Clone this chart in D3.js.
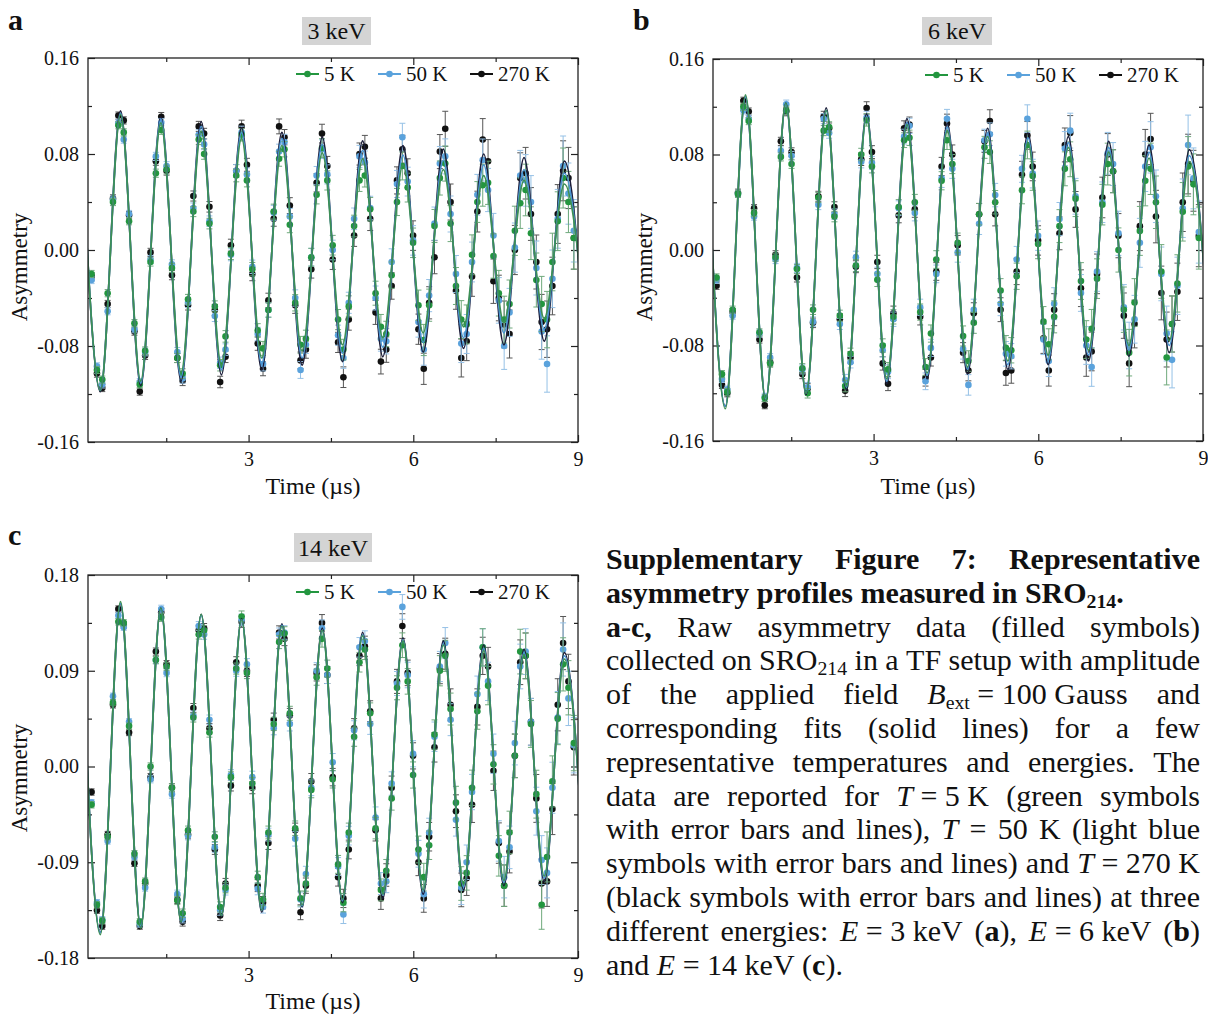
<!DOCTYPE html>
<html>
<head>
<meta charset="utf-8">
<script src="https://cdn.jsdelivr.net/npm/d3@7"></script>
<style>
body { margin: 0; background: #fff; }
svg text { font-family: "Liberation Serif", "Times New Roman", serif; fill: #111; }
</style>
</head>
<body>
<svg id="fig" width="1208" height="1017"></svg>
<script>
// time bins (µs), shared by every panel
var binTimes = [0.140,0.238,0.335,0.433,0.530,0.628,0.726,0.823,0.921,1.018,
  1.116,1.214,1.311,1.409,1.506,1.604,1.702,1.799,1.897,1.994,
  2.092,2.190,2.287,2.385,2.482,2.580,2.678,2.775,2.873,2.970,
  3.068,3.166,3.263,3.361,3.458,3.556,3.654,3.751,3.849,3.946,
  4.044,4.142,4.239,4.337,4.434,4.532,4.630,4.727,4.825,4.922,
  5.020,5.118,5.215,5.313,5.410,5.508,5.606,5.703,5.801,5.898,
  5.996,6.094,6.191,6.289,6.386,6.484,6.582,6.679,6.777,6.874,
  6.972,7.070,7.167,7.265,7.362,7.460,7.558,7.655,7.753,7.850,
  7.948,8.046,8.143,8.241,8.338,8.436,8.534,8.631,8.729,8.826,
  8.924];

// error bar half-heights per bin
var errBars = [0.003,0.003,0.003,0.003,0.003,0.003,0.003,0.003,0.003,0.003,
  0.0032,0.0034,0.0034,0.0036,0.0036,0.0038,0.0038,0.004,0.004,0.0042,
  0.0042,0.0044,0.0044,0.0046,0.0048,0.0048,0.005,0.0052,0.0052,0.0054,
  0.0056,0.0056,0.0058,0.006,0.0062,0.0062,0.0064,0.0066,0.0068,0.007,
  0.0072,0.0074,0.0076,0.0078,0.008,0.0082,0.0084,0.0086,0.0088,0.009,
  0.0092,0.0095,0.0098,0.01,0.0103,0.0106,0.011,0.0113,0.0116,0.012,
  0.0123,0.0126,0.013,0.0134,0.0138,0.0142,0.0146,0.015,0.0154,0.0158,
  0.0162,0.0166,0.017,0.0175,0.018,0.0185,0.019,0.0195,0.02,0.0205,
  0.021,0.0215,0.022,0.0225,0.023,0.0235,0.024,0.0245,0.025,0.0255,
  0.026];

// --- a: 3 keV ---
var a5K = [-0.020,-0.100,-0.108,-0.036,0.040,0.104,0.098,0.024,-0.061,-0.112,
  -0.084,-0.010,0.064,0.100,0.067,-0.015,-0.090,-0.103,-0.041,0.032,
  0.092,0.080,0.022,-0.047,-0.096,-0.072,-0.003,0.062,0.096,0.058,
  -0.016,-0.067,-0.082,-0.050,0.032,0.076,0.084,0.021,-0.044,-0.079,
  -0.074,-0.006,0.046,0.085,0.058,0.004,-0.058,-0.083,-0.047,0.020,
  0.058,0.062,0.034,-0.036,-0.064,-0.070,-0.021,0.040,0.070,0.052,
  0.006,-0.046,-0.075,-0.046,0.020,0.060,0.072,0.022,-0.030,-0.058,
  -0.062,-0.004,0.040,0.054,0.056,-0.005,-0.036,-0.058,-0.045,0.016,
  0.039,0.050,0.014,-0.025,-0.045,-0.058,-0.010,0.024,0.060,0.040,
  0.010];
var a50K = [-0.025,-0.097,-0.112,-0.051,0.042,0.106,0.092,0.030,-0.066,-0.110,
  -0.085,-0.008,0.078,0.106,0.070,-0.012,-0.085,-0.107,-0.044,0.035,
  0.096,0.088,0.024,-0.055,-0.094,-0.083,-0.004,0.066,0.098,0.063,
  -0.014,-0.070,-0.095,-0.050,0.031,0.082,0.090,0.028,-0.040,-0.100,
  -0.079,-0.006,0.062,0.084,0.063,0.000,-0.071,-0.090,-0.044,0.026,
  0.078,0.073,0.035,-0.040,-0.074,-0.076,-0.010,0.055,0.094,0.057,
  0.008,-0.060,-0.083,-0.038,0.022,0.072,0.078,0.030,-0.020,-0.078,
  -0.070,-0.010,0.046,0.075,0.050,0.012,-0.042,-0.080,-0.052,0.002,
  0.062,0.058,0.040,-0.015,-0.068,-0.095,-0.024,0.026,0.070,0.047,
  0.016];
var a270K = [-0.022,-0.103,-0.115,-0.045,0.043,0.112,0.108,0.029,-0.068,-0.118,
  -0.088,-0.002,0.074,0.111,0.066,-0.021,-0.090,-0.109,-0.046,0.045,
  0.103,0.097,0.036,-0.050,-0.110,-0.089,0.004,0.066,0.103,0.071,
  -0.020,-0.078,-0.099,-0.042,0.026,0.103,0.094,0.037,-0.046,-0.092,
  -0.083,-0.016,0.056,0.097,0.070,-0.008,-0.077,-0.106,-0.058,0.012,
  0.080,0.086,0.026,-0.052,-0.093,-0.083,-0.030,0.058,0.084,0.064,
  0.012,-0.066,-0.099,-0.044,-0.006,0.082,0.101,0.040,-0.034,-0.090,
  -0.076,-0.022,0.032,0.092,0.074,-0.026,-0.040,-0.062,-0.070,0.000,
  0.060,0.064,0.030,-0.010,-0.060,-0.066,-0.030,0.030,0.066,0.060,
  0.010];

// --- b: 6 keV ---
var b5K = [-0.023,-0.104,-0.119,-0.050,0.047,0.120,0.108,0.031,-0.069,-0.124,
  -0.095,-0.006,0.078,0.117,0.072,-0.016,-0.099,-0.120,-0.050,0.044,
  0.100,0.103,0.028,-0.055,-0.114,-0.087,-0.013,0.080,0.109,0.070,
  -0.025,-0.080,-0.100,-0.056,0.036,0.092,0.094,0.040,-0.052,-0.098,
  -0.070,-0.008,0.058,0.092,0.072,0.006,-0.072,-0.093,-0.061,0.030,
  0.086,0.082,0.040,-0.034,-0.082,-0.084,-0.022,0.050,0.088,0.062,
  0.005,-0.060,-0.079,-0.056,0.020,0.068,0.076,0.043,-0.026,-0.075,
  -0.066,-0.024,0.038,0.072,0.066,0.000,-0.050,-0.086,-0.044,0.016,
  0.058,0.068,0.040,-0.018,-0.090,-0.062,-0.028,0.032,0.070,0.055,
  0.010];
var b50K = [-0.025,-0.108,-0.117,-0.055,0.047,0.117,0.110,0.028,-0.070,-0.123,
  -0.090,-0.008,0.083,0.122,0.079,-0.015,-0.100,-0.115,-0.060,0.038,
  0.110,0.098,0.030,-0.062,-0.109,-0.094,-0.006,0.074,0.111,0.073,
  -0.020,-0.084,-0.102,-0.058,0.035,0.095,0.104,0.031,-0.048,-0.110,
  -0.082,-0.020,0.060,0.110,0.068,-0.002,-0.083,-0.113,-0.050,0.022,
  0.092,0.097,0.046,-0.045,-0.087,-0.089,-0.008,0.068,0.110,0.064,
  0.012,-0.075,-0.093,-0.045,0.026,0.085,0.100,0.045,-0.036,-0.080,
  -0.098,-0.018,0.040,0.081,0.072,0.014,-0.048,-0.080,-0.058,0.006,
  0.070,0.086,0.045,-0.020,-0.070,-0.092,-0.030,0.035,0.088,0.060,
  0.015];
var b270K = [-0.030,-0.113,-0.120,-0.052,0.048,0.125,0.116,0.035,-0.075,-0.130,
  -0.094,-0.004,0.091,0.116,0.082,-0.023,-0.104,-0.116,-0.061,0.045,
  0.112,0.102,0.036,-0.058,-0.118,-0.090,-0.014,0.076,0.119,0.082,
  -0.010,-0.095,-0.112,-0.053,0.029,0.102,0.105,0.034,-0.056,-0.107,
  -0.090,-0.018,0.070,0.106,0.080,0.004,-0.086,-0.101,-0.053,0.030,
  0.091,0.108,0.030,-0.050,-0.103,-0.101,-0.018,0.063,0.096,0.070,
  0.008,-0.074,-0.101,-0.050,0.014,0.088,0.098,0.034,-0.032,-0.090,
  -0.085,-0.020,0.044,0.080,0.066,0.012,-0.055,-0.095,-0.062,0.020,
  0.080,0.093,0.028,-0.036,-0.075,-0.062,-0.035,0.040,0.072,0.058,
  0.012];

// --- c: 14 keV ---
var c5K = [-0.036,-0.130,-0.145,-0.066,0.060,0.136,0.135,0.038,-0.082,-0.146,
  -0.108,0.000,0.100,0.140,0.094,-0.020,-0.126,-0.138,-0.060,0.046,
  0.124,0.128,0.032,-0.066,-0.132,-0.114,-0.010,0.092,0.141,0.088,
  -0.016,-0.104,-0.125,-0.062,0.040,0.117,0.125,0.050,-0.058,-0.124,
  -0.110,-0.022,0.084,0.120,0.092,-0.012,-0.092,-0.128,-0.062,0.028,
  0.098,0.110,0.050,-0.058,-0.116,-0.098,-0.030,0.074,0.114,0.080,
  -0.008,-0.078,-0.104,-0.074,0.030,0.090,0.104,0.054,-0.034,-0.110,
  -0.100,-0.020,0.052,0.112,0.076,0.002,-0.084,-0.112,-0.062,0.010,
  0.108,0.104,0.040,-0.026,-0.130,-0.085,-0.014,0.045,0.096,0.074,
  0.022];
var c50K = [-0.034,-0.128,-0.144,-0.070,0.066,0.142,0.131,0.042,-0.085,-0.148,
  -0.114,-0.012,0.100,0.148,0.088,-0.026,-0.120,-0.143,-0.065,0.048,
  0.132,0.124,0.044,-0.076,-0.135,-0.116,-0.008,0.090,0.138,0.096,
  -0.010,-0.115,-0.132,-0.064,0.036,0.124,0.126,0.040,-0.068,-0.125,
  -0.101,-0.020,0.090,0.130,0.086,0.004,-0.094,-0.139,-0.065,0.034,
  0.112,0.118,0.040,-0.048,-0.110,-0.108,-0.016,0.078,0.150,0.086,
  0.012,-0.082,-0.120,-0.062,0.028,0.094,0.116,0.044,-0.050,-0.114,
  -0.090,-0.024,0.068,0.112,0.080,0.012,-0.070,-0.104,-0.076,0.022,
  0.094,0.108,0.042,-0.042,-0.088,-0.100,-0.020,0.046,0.110,0.064,
  0.020];
var c270K = [-0.024,-0.135,-0.150,-0.064,0.058,0.148,0.133,0.032,-0.091,-0.150,
  -0.110,-0.010,0.108,0.145,0.096,-0.020,-0.125,-0.146,-0.064,0.055,
  0.128,0.130,0.036,-0.078,-0.140,-0.110,-0.018,0.098,0.136,0.090,
  -0.020,-0.112,-0.128,-0.072,0.044,0.126,0.120,0.048,-0.060,-0.137,
  -0.112,-0.014,0.088,0.135,0.086,-0.010,-0.104,-0.124,-0.078,0.036,
  0.104,0.113,0.052,-0.060,-0.124,-0.102,-0.020,0.080,0.132,0.088,
  0.010,-0.090,-0.124,-0.066,0.018,0.092,0.106,0.058,-0.042,-0.116,
  -0.105,-0.036,0.056,0.104,0.094,-0.004,-0.072,-0.112,-0.080,0.010,
  0.098,0.104,0.042,-0.030,-0.110,-0.108,-0.040,0.058,0.116,0.080,
  0.018];

// fit curves: value at each extremum (peaks / troughs)
var fitTimes = [-0.068,0.300,0.667,1.035,1.402,1.770,2.137,2.505,2.872,3.240,3.607,3.975,4.342,
  4.710,5.077,5.445,5.812,6.180,6.547,6.915,7.282,7.650,8.017,8.385,8.752,9.120];
var aFit5K = [0.120,-0.117,0.113,-0.109,0.106,-0.102,0.099,-0.096,0.093,-0.090,0.087,-0.084,0.081,
  -0.079,0.076,-0.073,0.071,-0.069,0.067,-0.064,0.062,-0.060,0.058,-0.057,0.055,-0.054];
var aFit50K = [0.120,-0.117,0.114,-0.111,0.109,-0.106,0.103,-0.100,0.098,-0.095,0.093,-0.090,0.088,
  -0.086,0.083,-0.081,0.079,-0.077,0.075,-0.073,0.071,-0.069,0.067,-0.066,0.064,-0.063];
var aFit270K = [0.120,-0.118,0.116,-0.113,0.111,-0.109,0.107,-0.104,0.102,-0.100,0.098,-0.096,0.094,
  -0.093,0.091,-0.089,0.087,-0.085,0.084,-0.082,0.080,-0.079,0.077,-0.076,0.074,-0.073];
var bFit5K = [0.136,-0.133,0.130,-0.126,0.123,-0.120,0.117,-0.114,0.111,-0.108,0.105,-0.103,0.100,
  -0.098,0.095,-0.093,0.090,-0.088,0.086,-0.084,0.082,-0.080,0.077,-0.076,0.074,-0.072];
var bFit50K = [0.133,-0.131,0.128,-0.125,0.122,-0.120,0.117,-0.115,0.112,-0.110,0.107,-0.105,0.103,
  -0.100,0.098,-0.096,0.094,-0.092,0.090,-0.088,0.086,-0.084,0.082,-0.080,0.079,-0.078];
var bFit270K = [0.133,-0.131,0.128,-0.126,0.123,-0.121,0.119,-0.117,0.114,-0.112,0.110,-0.108,0.106,
  -0.104,0.102,-0.100,0.098,-0.096,0.095,-0.093,0.091,-0.089,0.088,-0.086,0.084,-0.083];
var cFit5K = [0.160,-0.158,0.155,-0.152,0.149,-0.146,0.143,-0.140,0.138,-0.135,0.132,-0.130,0.128,
  -0.125,0.123,-0.120,0.118,-0.116,0.114,-0.111,0.109,-0.107,0.105,-0.103,0.101,-0.100];
var cFit50K = [0.158,-0.156,0.153,-0.150,0.148,-0.145,0.142,-0.140,0.138,-0.135,0.133,-0.131,0.128,
  -0.126,0.124,-0.121,0.119,-0.117,0.115,-0.113,0.111,-0.109,0.107,-0.105,0.104,-0.103];
var cFit270K = [0.158,-0.156,0.153,-0.151,0.149,-0.146,0.143,-0.141,0.139,-0.137,0.134,-0.132,0.130,
  -0.128,0.126,-0.124,0.121,-0.120,0.118,-0.116,0.114,-0.112,0.110,-0.108,0.107,-0.106];

var tempLabels = ["5 K", "50 K", "270 K"];
var xMajorTicks = [3, 6, 9];
var xMinorTicks = [1.5, 4.5, 7.5];
var yMajorAB = [-0.16, -0.08, 0, 0.08, 0.16];
var yMinorAB = [-0.12, -0.04, 0.04, 0.12];
var yMajorC = [-0.18, -0.09, 0, 0.09, 0.18];
var yMinorC = [-0.135, -0.045, 0.045, 0.135];

var ptColor = ["#23963f", "#5aa2dc", "#111111"];
var errColor = ["#6fa97c", "#95c1e6", "#555555"];
var lineColor = ["#3d8f55", "#4a93d0", "#1c1d3a"];

var svg = d3.select("#fig");
var serif = '"Liberation Serif", "Times New Roman", serif';

var panels = [
  {letter: "a", lx: 8, ly: 30, title: "3 keV", box: [302, 17, 69, 28], left: 88, top: 58, h: 384,
   yDom: [-0.16, 0.16], yMaj: yMajorAB, yMin: yMinorAB, ylab: [27, 267], xlab: [313, 494], leg: [296, 74],
   data: [a5K, a50K, a270K], fits: [aFit5K, aFit50K, aFit270K]},
  {letter: "b", lx: 633, ly: 30, title: "6 keV", box: [922, 17, 70, 28], left: 713, top: 59, h: 382,
   yDom: [-0.16, 0.16], yMaj: yMajorAB, yMin: yMinorAB, ylab: [652, 267], xlab: [928, 494], leg: [925, 75],
   data: [b5K, b50K, b270K], fits: [bFit5K, bFit50K, bFit270K]},
  {letter: "c", lx: 8, ly: 545, title: "14 keV", box: [294, 533, 78, 29], left: 88, top: 575, h: 383,
   yDom: [-0.18, 0.18], yMaj: yMajorC, yMin: yMinorC, ylab: [27, 778], xlab: [313, 1009], leg: [296, 592],
   data: [c5K, c50K, c270K], fits: [cFit5K, cFit50K, cFit270K]}
];

var W = 490;

var styleAxis = function(sel) {
    sel.select(".domain").remove();
    sel.attr("font-family", serif).attr("font-size", 20).attr("color", "#222");
    sel.selectAll("line").attr("stroke-width", 1.2);
}

var drawPanel = function(p, pi) {
    var x = d3.scaleLinear().domain([0.075, 9]).range([p.left, p.left + W]);
    var y = d3.scaleLinear().domain(p.yDom).range([p.top + p.h, p.top]);
    var g = svg.append("g").attr("class", "panel");

    g.append("clipPath").attr("id", "clip" + pi).append("rect")
        .attr("x", p.left).attr("y", p.top).attr("width", W).attr("height", p.h);

    // letter + title box
    svg.append("text").attr("x", p.lx).attr("y", p.ly).attr("font-size", 30).attr("font-weight", "bold").text(p.letter);
    g.append("rect").attr("x", p.box[0]).attr("y", p.box[1]).attr("width", p.box[2]).attr("height", p.box[3]).attr("fill", "#d4d4d4");
    g.append("text").attr("x", p.box[0] + p.box[2] / 2).attr("y", p.box[1] + p.box[3] - 6)
        .attr("text-anchor", "middle").attr("font-size", 24).text(p.title);

    // axes
    var bottom = p.top + p.h;
    g.append("g").attr("transform", "translate(0," + bottom + ")")
        .call(d3.axisBottom(x).tickValues(xMajorTicks).tickSize(-7).tickPadding(10).tickFormat(d3.format("d"))).call(styleAxis);
    g.append("g").attr("transform", "translate(0," + bottom + ")")
        .call(d3.axisBottom(x).tickValues(xMinorTicks).tickSize(-4).tickFormat("")).call(styleAxis);
    g.append("g").attr("transform", "translate(0," + p.top + ")")
        .call(d3.axisTop(x).tickValues(xMajorTicks).tickSize(-7).tickFormat("")).call(styleAxis);
    g.append("g").attr("transform", "translate(0," + p.top + ")")
        .call(d3.axisTop(x).tickValues(xMinorTicks).tickSize(-4).tickFormat("")).call(styleAxis);
    g.append("g").attr("transform", "translate(" + p.left + ",0)")
        .call(d3.axisLeft(y).tickValues(p.yMaj).tickSize(-7).tickPadding(9).tickFormat(function(d) { return d.toFixed(2); })).call(styleAxis);
    g.append("g").attr("transform", "translate(" + p.left + ",0)")
        .call(d3.axisLeft(y).tickValues(p.yMin).tickSize(-4).tickFormat("")).call(styleAxis);
    g.append("g").attr("transform", "translate(" + (p.left + W) + ",0)")
        .call(d3.axisRight(y).tickValues(p.yMaj).tickSize(-7).tickFormat("")).call(styleAxis);
    g.append("g").attr("transform", "translate(" + (p.left + W) + ",0)")
        .call(d3.axisRight(y).tickValues(p.yMin).tickSize(-4).tickFormat("")).call(styleAxis);

    g.append("text").attr("x", p.xlab[0]).attr("y", p.xlab[1]).attr("text-anchor", "middle")
        .attr("font-size", 24).text("Time (µs)");
    g.append("text").attr("transform", "translate(" + p.ylab[0] + "," + p.ylab[1] + ") rotate(-90)")
        .attr("text-anchor", "middle").attr("font-size", 23).text("Asymmetry");

    // data: 270 K first, 5 K last (on top)
    var plot = g.append("g").attr("clip-path", "url(#clip" + pi + ")");
    [2, 1, 0].forEach(function(k) {
        var pts = binTimes.map(function(t, i) { return {t: t, v: p.data[k][i], e: errBars[i]}; });
        var sg = plot.append("g");
        sg.selectAll("line.bar").data(pts).join("line").attr("class", "bar")
            .attr("x1", function(d) { return x(d.t); }).attr("x2", function(d) { return x(d.t); })
            .attr("y1", function(d) { return y(d.v - d.e); }).attr("y2", function(d) { return y(d.v + d.e); })
            .attr("stroke", errColor[k]).attr("stroke-width", 1);
        [-1, 1].forEach(function(s) {
            sg.selectAll("line.cap" + (s + 1)).data(pts).join("line").attr("class", "cap" + (s + 1))
                .attr("x1", function(d) { return x(d.t) - 3; }).attr("x2", function(d) { return x(d.t) + 3; })
                .attr("y1", function(d) { return y(d.v + s * d.e); }).attr("y2", function(d) { return y(d.v + s * d.e); })
                .attr("stroke", errColor[k]).attr("stroke-width", 1);
        });
        sg.selectAll("circle").data(pts).join("circle")
            .attr("cx", function(d) { return x(d.t); }).attr("cy", function(d) { return y(d.v); })
            .attr("r", 3.3).attr("fill", ptColor[k]);
    });

    var line = d3.line().x(function(d) { return x(d.t); }).y(function(d) { return y(d.v); }).curve(d3.curveMonotoneX);
    [2, 1, 0].forEach(function(k) {
        var fd = fitTimes.map(function(t, i) { return {t: t, v: p.fits[k][i]}; });
        plot.append("path").datum(fd).attr("d", line).attr("fill", "none")
            .attr("stroke", lineColor[k]).attr("stroke-width", 1.7);
    });

    // frame
    g.append("rect").attr("x", p.left).attr("y", p.top).attr("width", W).attr("height", p.h)
        .attr("fill", "none").attr("stroke", "#222").attr("stroke-width", 1.3);

    // legend
    var legOffsets = [0, 82, 174];
    tempLabels.forEach(function(lab, k) {
        var lx = p.leg[0] + legOffsets[k], ly = p.leg[1];
        g.append("line").attr("x1", lx).attr("x2", lx + 23).attr("y1", ly).attr("y2", ly)
            .attr("stroke", ptColor[k]).attr("stroke-width", 2);
        g.append("circle").attr("cx", lx + 11.5).attr("cy", ly).attr("r", 3.3).attr("fill", ptColor[k]);
        g.append("text").attr("x", lx + 28).attr("y", ly + 7).attr("font-size", 21).text(lab);
    });
}

panels.forEach(drawPanel);

// caption, justified line by line
var captionLines = [
  {j: true, runs: [["Supplementary Figure 7: Representative", "b"]]},
  {j: false, runs: [["asymmetry profiles measured in SRO", "b"], ["214", "bs"], [".", "b"]]},
  {j: true, runs: [["a-c,", "b"], [" Raw asymmetry data (filled symbols)", ""]]},
  {j: true, runs: [["collected on SRO", ""], ["214", "s"], [" in a TF setup with amplitude", ""]]},
  {j: true, runs: [["of the applied field ", ""], ["B", "i"], ["ext", "s"], ["\u00a0=\u00a0100\u00a0Gauss and", ""]]},
  {j: true, runs: [["corresponding fits (solid lines) for a few", ""]]},
  {j: true, runs: [["representative temperatures and energies. The", ""]]},
  {j: true, runs: [["data are reported for ", ""], ["T", "i"], ["\u00a0=\u00a05\u00a0K (green symbols", ""]]},
  {j: true, runs: [["with error bars and lines), ", ""], ["T", "i"], [" = 50 K (light blue", ""]]},
  {j: true, runs: [["symbols with error bars and lines) and ", ""], ["T", "i"], ["\u00a0=\u00a0270\u00a0K", ""]]},
  {j: true, runs: [["(black symbols with error bars and lines) at three", ""]]},
  {j: true, runs: [["different energies: ", ""], ["E", "i"], ["\u00a0=\u00a03\u00a0keV (", ""], ["a", "b"], ["), ", ""],
                   ["E", "i"], ["\u00a0=\u00a06\u00a0keV (", ""], ["b", "b"], [")", ""]]},
  {j: false, runs: [["and ", ""], ["E", "i"], ["\u00a0=\u00a014\u00a0keV (", ""], ["c", "b"], [").", ""]]}
];

var capX = 606, capW = 594, capY0 = 569, capStep = 33.8, capSize = 30;
var cap = svg.append("g").attr("font-size", capSize);
captionLines.forEach(function(line, li) {
    var words = [[]];
    line.runs.forEach(function(r) {
        r[0].split(" ").forEach(function(part, k) {
            if (k > 0) words.push([]);
            if (part !== "") words[words.length - 1].push({t: part, s: r[1]});
        });
    });
    words = words.filter(function(w) { return w.length > 0; });
    var yy = capY0 + li * capStep;
    var nodes = words.map(function(w) {
        var txt = cap.append("text").attr("y", yy);
        var shifted = false;
        w.forEach(function(pc) {
            var ts = txt.append("tspan").text(pc.t);
            if (pc.s.indexOf("b") >= 0) ts.attr("font-weight", "bold");
            if (pc.s.indexOf("i") >= 0) ts.attr("font-style", "italic");
            if (pc.s.indexOf("s") >= 0) {
                ts.attr("font-size", capSize * 0.66);
                if (!shifted) { ts.attr("dy", 5); shifted = true; }
            } else if (shifted) {
                ts.attr("dy", -5); shifted = false;
            }
        });
        return txt;
    });
    var widths = nodes.map(function(n) { return n.node().getComputedTextLength(); });
    var total = d3.sum(widths);
    var gap = line.j && nodes.length > 1 ? (capW - total) / (nodes.length - 1) : capSize * 0.25;
    var cx = capX;
    nodes.forEach(function(n, i) {
        n.attr("x", cx);
        cx += widths[i] + gap;
    });
});
</script>
</body>
</html>
